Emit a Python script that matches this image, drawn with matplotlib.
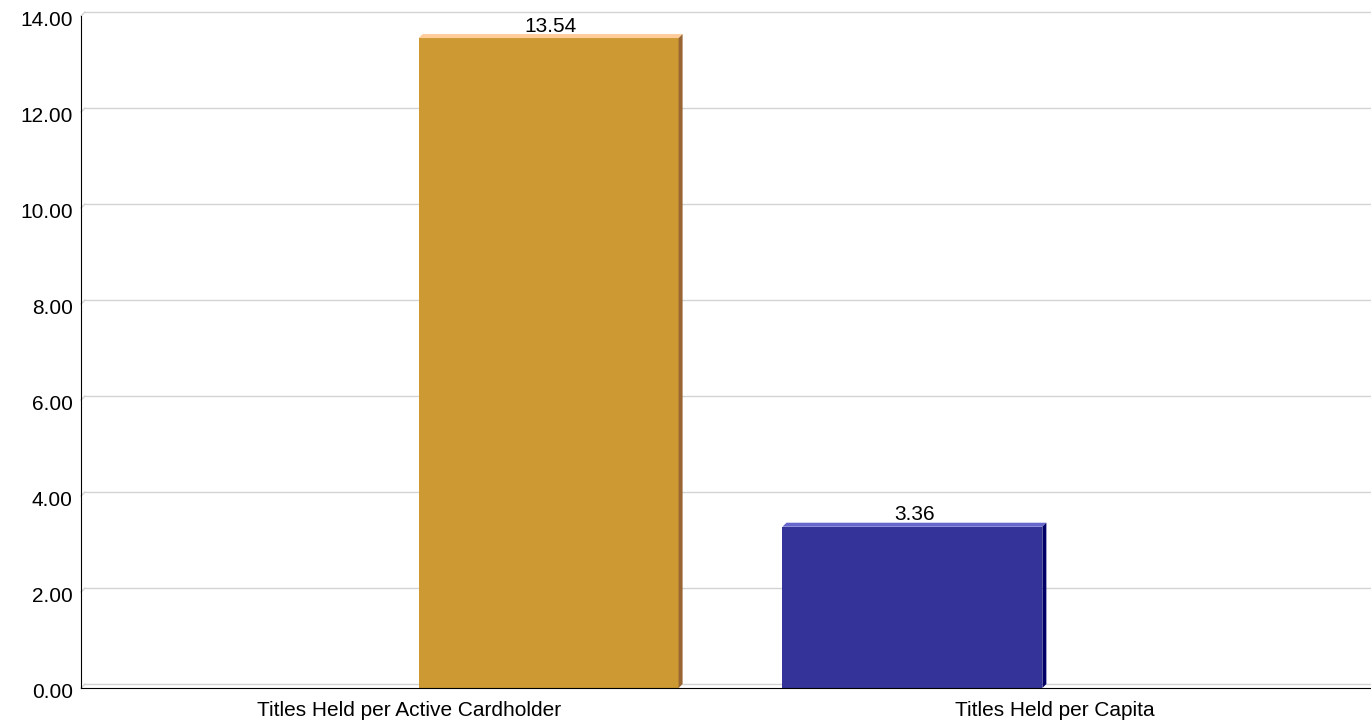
import matplotlib
matplotlib.use("Agg")
import matplotlib.pyplot as plt
import matplotlib.transforms as mtransforms
from matplotlib.patches import Polygon

plt.rcParams['font.family'] = ['Liberation Sans', 'DejaVu Sans']

categories = ["Titles Held per Active Cardholder", "Titles Held per Capita"]
values = [13.54, 3.36]
value_labels = ["13.54", "3.36"]
yticks = [0, 2, 4, 6, 8, 10, 12, 14]

front_colors = ["#CC9933", "#333399"]
top_colors = ["#FFCC99", "#6666CC"]
side_colors = ["#996633", "#000066"]

W, H = 1371, 728
fig = plt.figure(figsize=(W / 100, H / 100), dpi=100)
ax_left, ax_right, ax_bottom, ax_top = 81, 1371, 688, 16
ax = fig.add_axes([ax_left / W, (H - ax_bottom) / H, (ax_right - ax_left) / W, (ax_bottom - ax_top) / H])
ax.set_xlim(0, len(categories))
ax.set_ylim(0, 14)

depth_px = 4
dx = depth_px * len(categories) / (ax_right - ax_left)
dy = depth_px * 14 / (ax_bottom - ax_top)

# gridlines on back wall with floor diagonal
for t in yticks:
    ax.plot([dx, len(categories)], [t + dy, t + dy], color="#D3D3D3", lw=1, zorder=1, clip_on=False)
    ax.plot([0, dx], [t, t + dy], color="#D3D3D3", lw=1, zorder=1, clip_on=False)

# bar placement within category bands
offsets = [0.225, -0.211]
bar_w = 0.403
for i, v in enumerate(values):
    xc = i + 0.5 + offsets[i]
    x0, x1 = xc - bar_w / 2, xc + bar_w / 2
    ax.add_patch(Polygon([(x0, 0), (x1, 0), (x1, v), (x0, v)], closed=True,
                         facecolor=front_colors[i], edgecolor="none", zorder=3))
    ax.add_patch(Polygon([(x0, v), (x1, v), (x1 + dx, v + dy), (x0 + dx, v + dy)], closed=True,
                         facecolor=top_colors[i], edgecolor="none", zorder=3))
    ax.add_patch(Polygon([(x1, 0), (x1 + dx, dy), (x1 + dx, v + dy), (x1, v)], closed=True,
                         facecolor=side_colors[i], edgecolor="none", zorder=3))
    ax.text(xc + dx / 2, v + dy - 0.03, value_labels[i], ha="center", va="bottom",
            fontsize=15, color="#000000", zorder=4)

label_shift = 1.5 * dx
ax.set_xticks([i + 0.5 + label_shift for i in range(len(categories))])
ax.set_xticklabels(categories, fontsize=15)
ax.set_yticks(yticks)
ax.set_yticklabels([f"{t:.2f}" for t in yticks], fontsize=15)
ax.tick_params(axis="y", length=0, pad=6)
ax.tick_params(axis="x", length=0, pad=9)
down = mtransforms.ScaledTranslation(0, -3 / 100, fig.dpi_scale_trans)
for lab in ax.get_yticklabels():
    lab.set_transform(lab.get_transform() + down)
for s in ["top", "right"]:
    ax.spines[s].set_visible(False)
ax.spines["left"].set_color("black")
ax.spines["bottom"].set_color("black")
ax.spines["left"].set_zorder(5)
ax.spines["bottom"].set_zorder(5)
ax.set_facecolor("white")

fig.savefig("out.png", dpi=100)
